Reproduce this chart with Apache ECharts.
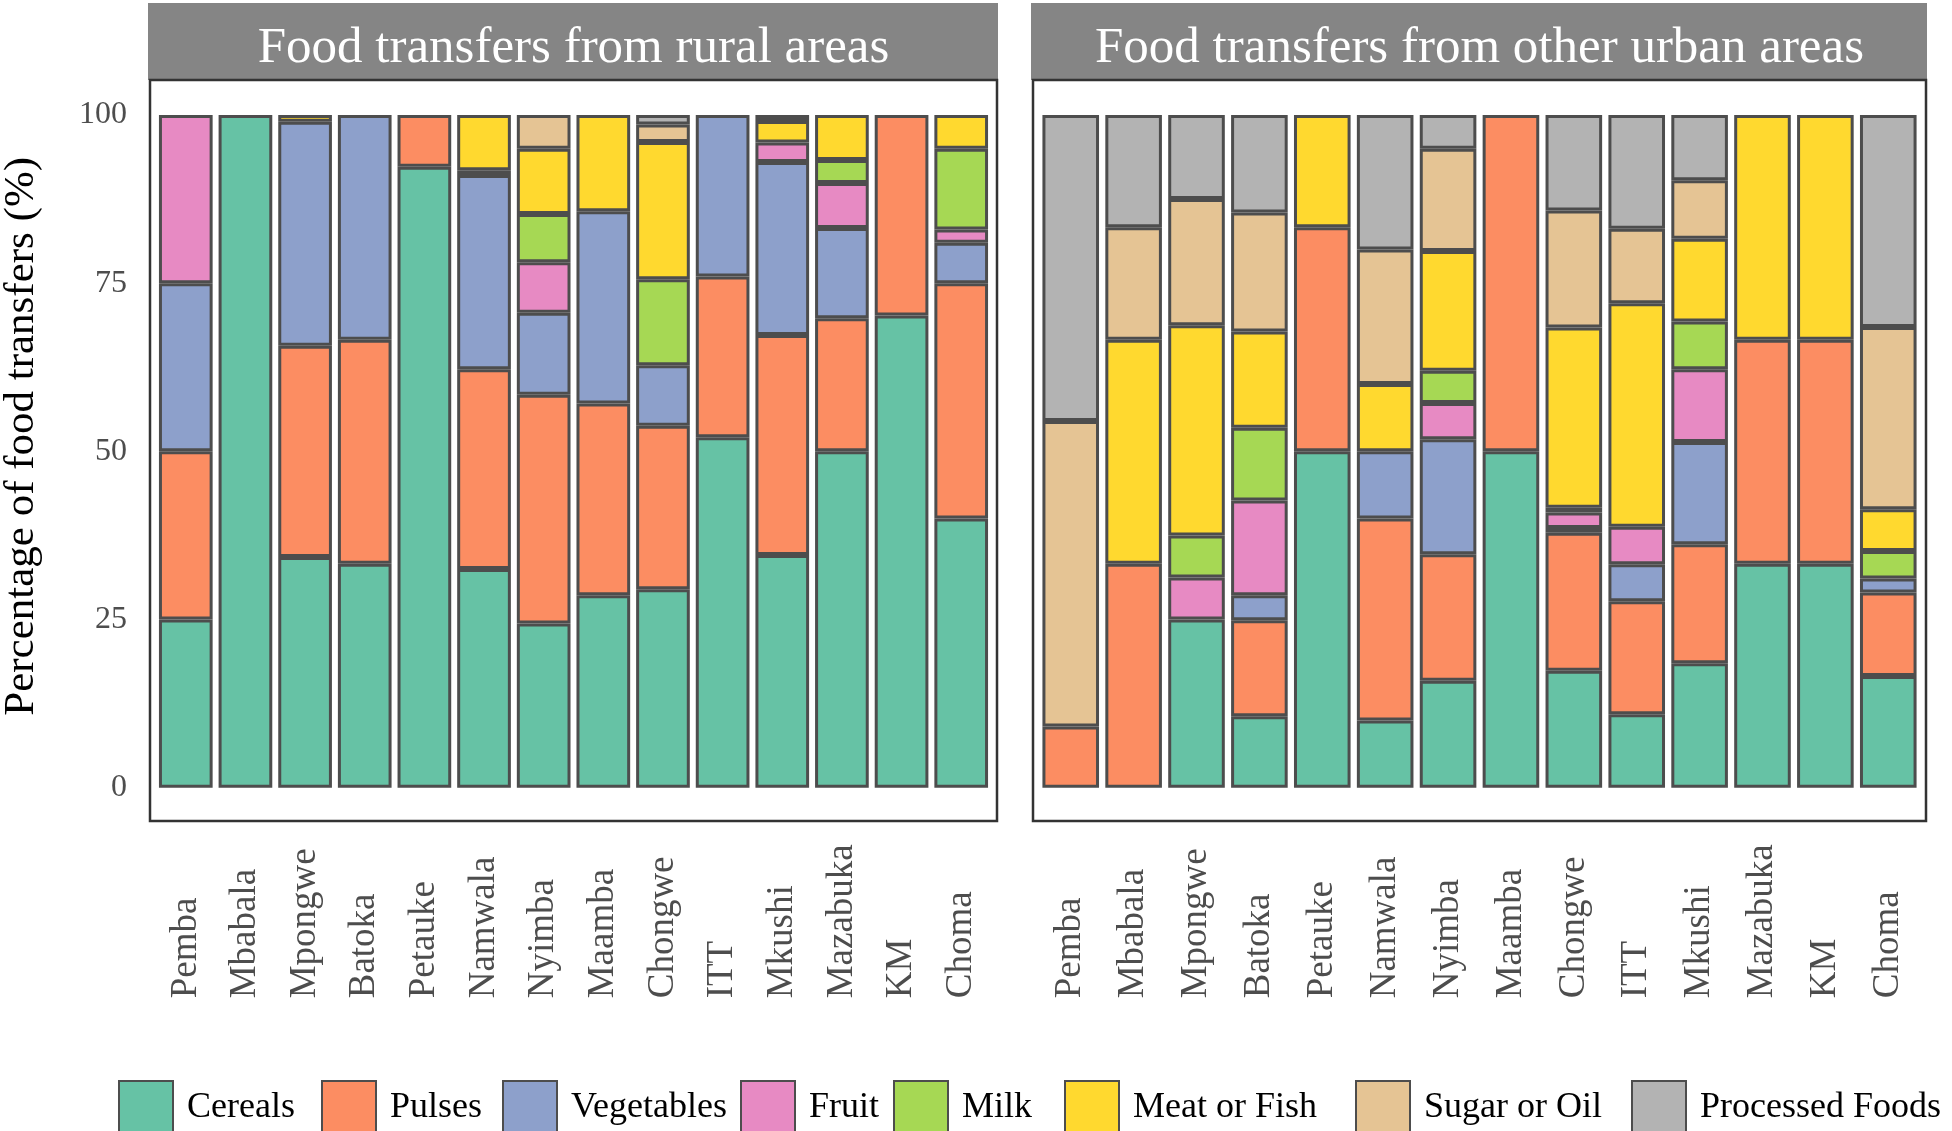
<!DOCTYPE html>
<html>
<head>
<meta charset="utf-8">
<script src="https://cdn.jsdelivr.net/npm/echarts@6/dist/echarts.min.js"></script>
<style>
html,body{margin:0;padding:0;background:#fff;}
#c{width:1952px;height:1131px;}
</style>
</head>
<body>
<div id="c"></div>
<script>
// ---------- data ----------
const districts = ['Pemba','Mbabala','Mpongwe','Batoka','Petauke','Namwala','Nyimba','Maamba','Chongwe','ITT','Mkushi','Mazabuka','KM','Choma'];
const groups = ['Cereals','Pulses','Vegetables','Fruit','Milk','Meat or Fish','Sugar or Oil','Processed Foods'];
const panelTitles = ['Food transfers from rural areas','Food transfers from other urban areas'];
const yTicks = [0,25,50,75,100];

// rural (%), order follows districts
const ruralCereals    = [25, 100, 34.3, 33.3, 92.3, 32.5, 24.4, 28.6, 29.5, 52.1, 34.6, 50, 70.2, 40];
const ruralPulses     = [25, 0, 31.4, 33.3, 7.7, 29.7, 34.0, 28.5, 24.3, 23.9, 32.7, 19.8, 29.8, 35];
const ruralVegetables = [25, 0, 33.3, 33.4, 0, 28.9, 12.2, 28.6, 9.0, 24.0, 25.7, 13.4, 0, 6.0];
const ruralFruit      = [25, 0, 0, 0, 0, 0, 7.5, 0, 0, 0, 2.9, 6.7, 0, 2.0];
const ruralMilk       = [0, 0, 0, 0, 0, 0.7, 7.2, 0, 12.8, 0, 0, 3.4, 0, 12.0];
const ruralMeat       = [0, 0, 1.0, 0, 0, 8.2, 9.7, 14.3, 20.4, 0, 3.2, 6.7, 0, 5.0];
const ruralSugar      = [0, 0, 0, 0, 0, 0, 5.0, 0, 2.6, 0, 0, 0, 0, 0];
const ruralProcessed  = [0, 0, 0, 0, 0, 0, 0, 0, 1.4, 0, 0.9, 0, 0, 0];

// other urban (%)
const urbanCereals    = [0, 0, 25, 10.6, 50, 10, 15.9, 50, 17.4, 10.9, 18.5, 33.3, 33.3, 16.6];
const urbanPulses     = [9.1, 33.3, 0, 14.3, 33.3, 30, 18.8, 50, 20.5, 16.8, 17.7, 33.3, 33.3, 12.4];
const urbanVegetables = [0, 0, 0, 3.7, 0, 10, 17.1, 0, 0.7, 5.5, 15.2, 0, 0, 2.1];
const urbanFruit      = [0, 0, 6.25, 14.1, 0, 0, 5.4, 0, 2.3, 5.6, 10.8, 0, 0, 0];
const urbanMilk       = [0, 0, 6.25, 10.8, 0, 0, 4.8, 0, 0.7, 0, 7.1, 0, 0, 4.1];
const urbanMeat       = [0, 33.3, 31.25, 14.3, 16.7, 10, 17.8, 0, 26.8, 33.2, 12.3, 33.4, 33.4, 6.2];
const urbanSugar      = [45.4, 16.7, 18.75, 17.7, 0, 20, 15.2, 0, 17.4, 11.1, 8.7, 0, 0, 27.1];
const urbanProcessed  = [45.5, 16.7, 12.5, 14.5, 0, 20, 5.0, 0, 14.2, 16.9, 9.7, 0, 0, 31.5];

const colors = ['#66C2A5','#FC8D62','#8DA0CB','#E78AC3','#A6D854','#FFD92F','#E5C494','#B3B3B3'];

const ruralSets = [ruralCereals, ruralPulses, ruralVegetables, ruralFruit, ruralMilk, ruralMeat, ruralSugar, ruralProcessed];
const urbanSets = [urbanCereals, urbanPulses, urbanVegetables, urbanFruit, urbanMilk, urbanMeat, urbanSugar, urbanProcessed];

// ---------- chart ----------
const SERIF = '"Liberation Serif", "DejaVu Serif", serif';
const chart = echarts.init(document.getElementById('c'), null, {renderer:'canvas'});

// panel boxes (pixels)
const P = [
  {x0:150, x1:997},
  {x0:1033, x1:1926}
];
const boxTop = 80, boxBottom = 821;
const plotTop = 81.4, plotBottom = 821.3;
const grids = P.map(p => {
  const unit = (p.x1 - p.x0) / 14.2;
  const inset = unit * 0.1;
  return {left: p.x0 + inset, width: (p.x1 - p.x0) - 2*inset, top: plotTop, height: plotBottom - plotTop,
          containLabel:false, outerBoundsMode: 'none'};
});

const clean = arr => arr.map(v => v > 0 ? v : null);

const series = [];
[ruralSets, urbanSets].forEach((sets, pi) => {
  sets.forEach((arr, gi) => {
    series.push({
      name: groups[gi],
      type: 'bar',
      stack: pi === 0 ? 'rural' : 'urban',
      xAxisIndex: pi, yAxisIndex: pi,
      data: clean(arr),
      barWidth: '90%',
      itemStyle: {color: colors[gi], borderColor: '#4D4D4D', borderWidth: 3},
      emphasis: {disabled: true},
      animation: false
    });
  });
});

const xAxes = [0,1].map(i => ({
  type: 'category', gridIndex: i, data: districts,
  axisLine: {show:false}, axisTick: {show:false},
  axisLabel: {
    interval: 0, rotate: 90, align: 'left', verticalAlign: 'middle',
    margin: 177, color: '#4D4D4D', fontFamily: SERIF, fontSize: 37
  }
}));

const yAxes = [0,1].map(i => ({
  type: 'value', gridIndex: i, min: -5, max: 105, interval: 5,
  axisLine: {show:false}, axisTick: {show:false}, splitLine: {show:false},
  axisLabel: {
    show: i === 0, margin: 29, color: '#4D4D4D', fontFamily: SERIF, fontSize: 32,
    formatter: v => (yTicks.indexOf(Math.round(v)) >= 0 && Math.abs(v - Math.round(v)) < 1e-6) ? String(Math.round(v)) : ''
  },
  name: i === 0 ? 'Percentage of food transfers (%)' : '',
  nameLocation: 'middle', nameRotate: 90, nameGap: 113,
  nameTextStyle: {color: '#000', fontFamily: SERIF, fontSize: 43, padding: [0,0,0,30]}
}));

const graphics = [];
P.forEach((p, i) => {
  graphics.push({
    type: 'rect', shape: {x: p.x0 - 2, y: 3, width: p.x1 - p.x0 + 3, height: boxTop - 3},
    style: {fill: '#858585'}, z: 1
  });
  graphics.push({
    type: 'text', x: (p.x0 + p.x1)/2, y: 49,
    style: {text: panelTitles[i], fill: '#fff', font: '51px ' + SERIF, textAlign: 'center', textVerticalAlign: 'middle'}, z: 2
  });
  graphics.push({
    type: 'rect', shape: {x: p.x0, y: boxTop, width: p.x1 - p.x0, height: boxBottom - boxTop},
    style: {fill: 'none', stroke: '#333', lineWidth: 2.5}, z: 3
  });
});

// one legend block per food group, placed along the bottom like the reference
const legendLeft = [118, 321, 502, 740, 893, 1064, 1355, 1631];
const legends = groups.map((g, i) => ({
  data: [g],
  left: legendLeft[i], top: 1080,
  itemWidth: 54, itemHeight: 54, padding: 0,
  icon: 'rect',
  textStyle: {color: '#000', fontFamily: SERIF, fontSize: 36, padding: [0,0,0,9]},
  selectedMode: false
}));

chart.setOption({
  animation: false,
  color: colors,
  grid: grids,
  xAxis: xAxes,
  yAxis: yAxes,
  legend: legends,
  graphic: graphics,
  series: series
});
</script>
</body>
</html>
